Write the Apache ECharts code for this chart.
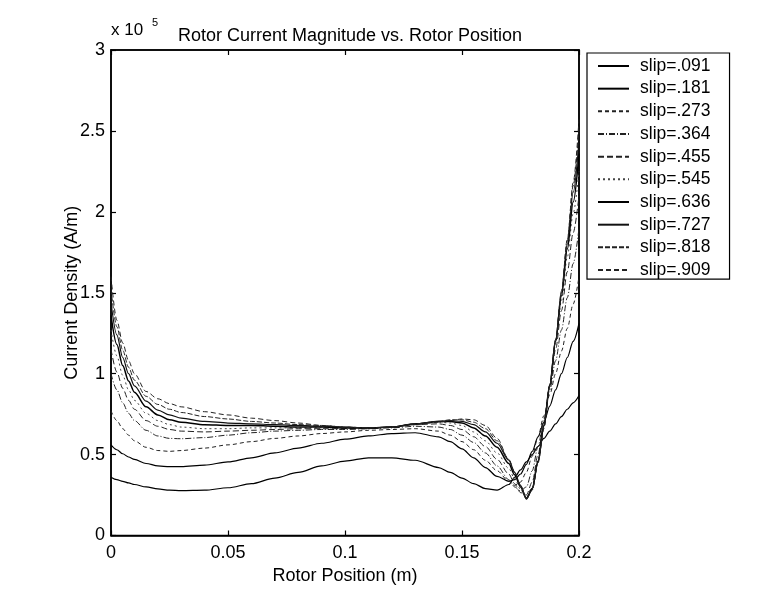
<!DOCTYPE html>
<html>
<head>
<meta charset="utf-8">
<script src="https://cdn.jsdelivr.net/npm/echarts@6/dist/echarts.min.js"></script>
<style>html,body{margin:0;padding:0;background:#fff;}#c{width:779px;height:598px;}</style>
</head>
<body>
<div id="c"></div>
<script>
// Rotor position (m)
const xPos = [0, 0.0025, 0.005, 0.0075, 0.01, 0.015, 0.02, 0.025, 0.03, 0.04, 0.05, 0.06, 0.07, 0.08, 0.09, 0.10, 0.11, 0.12, 0.13, 0.14, 0.145, 0.15, 0.155, 0.16, 0.165, 0.17, 0.1725, 0.175, 0.1775, 0.18, 0.1825, 0.185, 0.1875, 0.19, 0.1925, 0.195, 0.1975, 0.2];

// Current density, units of 1e5 A/m
const slip091 = [0.36,0.345,0.335,0.325,0.315,0.30,0.288,0.28,0.277,0.28,0.295,0.32,0.355,0.39,0.43,0.46,0.48,0.48,0.465,0.42,0.39,0.355,0.32,0.29,0.28,0.315,0.36,0.405,0.455,0.50,0.55,0.60,0.645,0.69,0.735,0.78,0.82,0.865];
const slip181 = [0.56,0.53,0.505,0.485,0.47,0.445,0.43,0.425,0.425,0.435,0.455,0.48,0.51,0.54,0.57,0.595,0.615,0.63,0.635,0.61,0.58,0.535,0.48,0.42,0.365,0.335,0.345,0.38,0.44,0.52,0.61,0.70,0.80,0.90,1.0,1.1,1.2,1.31];
const slip273 = [0.77,0.71,0.66,0.62,0.585,0.545,0.525,0.52,0.525,0.54,0.56,0.58,0.60,0.615,0.63,0.64,0.65,0.655,0.66,0.645,0.62,0.58,0.53,0.465,0.40,0.335,0.31,0.33,0.39,0.49,0.61,0.74,0.87,1.0,1.14,1.28,1.43,1.6];
const slip364 = [1.00,0.90,0.82,0.755,0.71,0.65,0.615,0.60,0.598,0.605,0.62,0.635,0.645,0.65,0.655,0.655,0.66,0.665,0.675,0.67,0.655,0.62,0.575,0.51,0.43,0.345,0.30,0.275,0.30,0.40,0.55,0.72,0.90,1.08,1.27,1.47,1.68,1.90];
const slip455 = [1.15,1.01,0.91,0.835,0.78,0.71,0.675,0.655,0.645,0.64,0.645,0.65,0.655,0.66,0.66,0.66,0.66,0.67,0.685,0.69,0.68,0.655,0.61,0.55,0.47,0.38,0.32,0.265,0.25,0.33,0.50,0.70,0.92,1.15,1.39,1.63,1.87,2.10];
const slip545 = [1.27,1.11,0.99,0.90,0.835,0.755,0.71,0.685,0.67,0.66,0.66,0.665,0.665,0.665,0.665,0.665,0.665,0.67,0.69,0.70,0.695,0.68,0.64,0.585,0.51,0.415,0.35,0.285,0.235,0.30,0.47,0.69,0.93,1.19,1.45,1.72,1.99,2.25];
const slip636 = [1.36,1.18,1.05,0.955,0.885,0.795,0.745,0.715,0.70,0.685,0.68,0.68,0.675,0.67,0.67,0.665,0.665,0.67,0.69,0.705,0.705,0.695,0.665,0.615,0.545,0.445,0.375,0.30,0.23,0.29,0.46,0.68,0.93,1.20,1.48,1.77,2.06,2.36];
const slip727 = [1.44,1.24,1.10,1.00,0.925,0.83,0.775,0.745,0.725,0.705,0.695,0.69,0.685,0.68,0.675,0.67,0.665,0.67,0.69,0.705,0.71,0.705,0.685,0.64,0.57,0.465,0.39,0.31,0.225,0.285,0.455,0.675,0.93,1.21,1.50,1.80,2.12,2.44];
const slip818 = [1.52,1.29,1.145,1.04,0.96,0.86,0.81,0.78,0.76,0.735,0.72,0.705,0.695,0.685,0.68,0.67,0.665,0.67,0.69,0.705,0.715,0.715,0.70,0.66,0.585,0.47,0.39,0.31,0.225,0.28,0.45,0.67,0.93,1.21,1.51,1.83,2.16,2.51];
const slip909 = [1.60,1.33,1.19,1.08,1.00,0.89,0.845,0.815,0.795,0.765,0.745,0.725,0.71,0.695,0.68,0.67,0.665,0.67,0.685,0.70,0.71,0.72,0.715,0.68,0.60,0.47,0.39,0.31,0.23,0.28,0.45,0.66,0.92,1.2,1.5,1.82,2.18,2.57];

const seriesNames = ['slip=.091','slip=.181','slip=.273','slip=.364','slip=.455','slip=.545','slip=.636','slip=.727','slip=.818','slip=.909'];
const seriesValues = [slip091,slip181,slip273,slip364,slip455,slip545,slip636,slip727,slip818,slip909];
const xTicks = [0, 0.05, 0.1, 0.15, 0.2];
const yTicks = [0, 0.5, 1, 1.5, 2, 2.5, 3];

const lineStyles = [
  {type:'solid', width:1.2, color:'#000'},
  {type:'solid', width:1.2, color:'#000'},
  {type:[4,3], width:1, color:'#222'},
  {type:[6,2,1,2], width:1, color:'#222'},
  {type:[6,3], width:1, color:'#222'},
  {type:[2,3], width:1, color:'#444'},
  {type:'solid', width:1.5, color:'#000'},
  {type:'solid', width:1.2, color:'#111'},
  {type:[5,2], width:1, color:'#222'},
  {type:[5,3], width:1, color:'#222'}
];

const FONT = 'Liberation Sans, Arial, sans-serif';
const chart = echarts.init(document.getElementById('c'), null, {renderer:'canvas'});

const tickStyle = {show:true, inside:true, length:5, lineStyle:{color:'#000', width:1.2}};
const axLine = {show:true, onZero:false, lineStyle:{color:'#000', width:1.5}};

function fmt(list){
  return function(v){
    const t = list.find(function(k){return Math.abs(k-v)<1e-9;});
    return t===undefined ? '' : String(t);
  };
}

const series = seriesNames.map(function(n, i){
  return {
    name:n, type:'line', xAxisIndex:0, yAxisIndex:0,
    data: xPos.map(function(x, j){ return [x, seriesValues[i][j]]; }),
    showSymbol:false, symbol:'none', symbolSize:0, smooth:0.3, smoothMonotone:'x',
    lineStyle: lineStyles[i], itemStyle:{color:lineStyles[i].color},
    silent:true
  };
});
// empty series bound to the mirror axes so the box ticks are drawn
series.push({type:'line', xAxisIndex:1, yAxisIndex:1, data:[], silent:true});

chart.setOption({
  backgroundColor:'#fff',
  animation:false,
  title:{
    text:'Rotor Current Magnitude vs. Rotor Position',
    left:345, top:22, textAlign:'center',
    textStyle:{fontFamily:FONT, fontSize:18, fontWeight:'normal', color:'#000'}
  },
  graphic:[
    {type:'text', left:111, top:22, style:{text:'x 10', font:'17px ' + FONT, fill:'#000'}},
    {type:'text', left:152, top:17, style:{text:'5', font:'11px ' + FONT, fill:'#000'}}
  ],
  grid:{left:111, right:200, top:50, bottom:62.5, containLabel:false,
        show:true, borderColor:'#000', borderWidth:1.5, backgroundColor:'transparent'},
  legend:{
    data:seriesNames,
    orient:'vertical',
    left:587, top:53,
    padding:[4,19,0,10],
    itemWidth:31, itemHeight:16, itemGap:4.67,
    borderColor:'#000', borderWidth:1.2,
    backgroundColor:'#fff',
    itemStyle:{opacity:0, color:'transparent', borderWidth:0},
    textStyle:{fontFamily:FONT, fontSize:17.5, lineHeight:16, color:'#000', padding:[0,0,0,6]}
  },
  xAxis:[
    {type:'value', min:0, max:0.2, interval:0.05, position:'bottom',
     name:'Rotor Position (m)', nameLocation:'middle', nameGap:32,
     nameTextStyle:{fontFamily:FONT, fontSize:18, color:'#000'},
     axisLine:axLine, axisTick:tickStyle, splitLine:{show:false},
     axisLabel:{fontFamily:FONT, fontSize:18, color:'#000', margin:9, formatter:fmt(xTicks)}},
    {type:'value', min:0, max:0.2, interval:0.05, position:'top',
     axisLine:axLine, axisTick:tickStyle, splitLine:{show:false}, axisLabel:{show:false}}
  ],
  yAxis:[
    {type:'value', min:0, max:3, interval:0.5, position:'left',
     name:'Current Density (A/m)', nameLocation:'middle', nameGap:30, nameRotate:90,
     nameMoveOverlap:false,
     nameTextStyle:{fontFamily:FONT, fontSize:18, color:'#000'},
     axisLine:axLine, axisTick:tickStyle, splitLine:{show:false},
     axisLabel:{fontFamily:FONT, fontSize:18, color:'#000', margin:6, formatter:fmt(yTicks)}},
    {type:'value', min:0, max:3, interval:0.5, position:'right',
     axisLine:axLine, axisTick:tickStyle, splitLine:{show:false}, axisLabel:{show:false}}
  ],
  series: series
});
</script>
</body>
</html>
